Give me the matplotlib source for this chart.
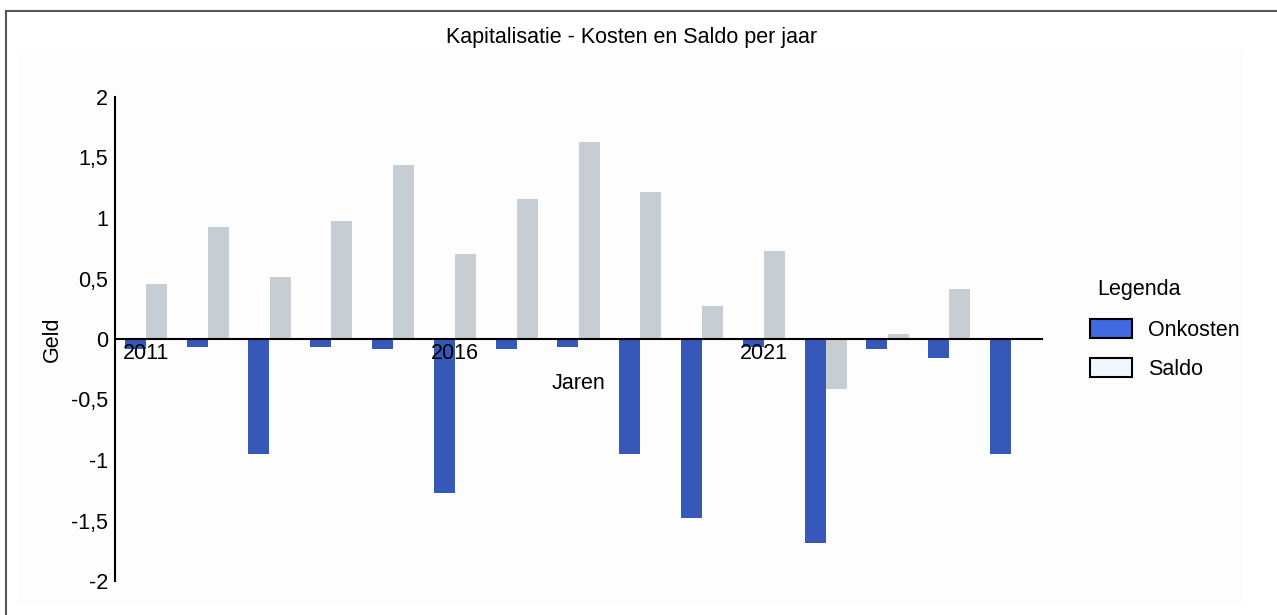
import matplotlib
matplotlib.use("Agg")
import matplotlib.pyplot as plt
from matplotlib.patches import Patch, Rectangle
import numpy as np

plt.rcParams['font.family'] = ['Liberation Sans', 'DejaVu Sans']

years = list(range(2011, 2026))
onkosten = [-0.08, -0.065, -0.95, -0.065, -0.08, -1.27, -0.083, -0.063, -0.948,
            -1.477, -0.063, -1.683, -0.08, -0.16, -0.95]
saldo = [0.455, 0.925, 0.51, 0.975, 1.44, 0.70, 1.157, 1.628, 1.215,
         0.273, 0.727, -0.416, 0.04, 0.41, 0.0]
xtick_years = [2011, 2016, 2021]
ytick_vals = [-2, -1.5, -1, -0.5, 0, 0.5, 1, 1.5, 2]
ytick_labels = ['-2', '-1,5', '-1', '-0,5', '0', '0,5', '1', '1,5', '2']

FS = 15.5
W, H = 1277, 615
fig = plt.figure(figsize=(W / 100, H / 100), dpi=100)
fig.patch.set_facecolor('white')

# faint inner background + border (top and left)
fig.patches.append(Rectangle((17 / W, 1 - 605 / H), (1243 - 17) / W, (605 - 50) / H,
                             transform=fig.transFigure, facecolor='#fdfdfd',
                             edgecolor='none', zorder=-10))
fig.lines.append(plt.Line2D([6 / W, 6 / W], [0, 1 - 11 / H], transform=fig.transFigure,
                            color='#555555', lw=1.5))
fig.lines.append(plt.Line2D([6 / W, 1], [1 - 11 / H, 1 - 11 / H], transform=fig.transFigure,
                            color='#555555', lw=1.5))

ax = fig.add_axes([115 / W, 1 - 581 / H, (1042 - 115) / W, (581 - 97) / H])
ax.set_facecolor('none')

x = np.array(years, dtype=float)
bw = 0.34
ax.bar(x - bw / 2, onkosten, width=bw, color='#3558b9', zorder=1)
ax.bar(x + bw / 2, saldo, width=bw, color='#c6cdd3', zorder=1)

ax.set_xlim(2010.5, 2025.5)
ax.set_ylim(-2, 2)

for s in ['top', 'right']:
    ax.spines[s].set_visible(False)
ax.spines['bottom'].set_position(('data', 0))
ax.spines['bottom'].set_linewidth(1.5)
ax.spines['left'].set_linewidth(1.5)
ax.spines['bottom'].set_zorder(3)

ax.set_xticks(xtick_years)
ax.set_xticklabels([str(y) for y in xtick_years])
ax.set_yticks(ytick_vals)
ax.set_yticklabels(ytick_labels)
ax.tick_params(axis='both', length=0, labelsize=FS)
ax.tick_params(axis='x', pad=3)
ax.tick_params(axis='y', pad=5)

ax.set_xlabel('Jaren', fontsize=FS)
ax.xaxis.set_label_coords(0.5, (581 - 373) / (581 - 97))
ax.set_ylabel('Geld', fontsize=FS)
ax.yaxis.set_label_coords((63 - 115) / (1042 - 115), 0.5)

fig.text(632 / W, 1 - 37 / H, 'Kapitalisatie - Kosten en Saldo per jaar',
         ha='center', va='center', fontsize=FS)

fig.text(1097 / W, 1 - 290 / H, 'Legenda', ha='left', va='center', fontsize=FS)
handles = [Patch(facecolor='#4169e1', edgecolor='black', linewidth=1.5, label='Onkosten'),
           Patch(facecolor='#f0f8ff', edgecolor='black', linewidth=1.5, label='Saldo')]
leg = fig.legend(handles=handles, loc='upper left',
                 bbox_to_anchor=(1090 / W, 1 - 319 / H), frameon=False,
                 fontsize=FS, borderpad=0, borderaxespad=0,
                 handlelength=1.95, handleheight=1.0, handletextpad=0.75,
                 labelspacing=0.77)

fig.savefig('out.png', dpi=100, facecolor='white')
